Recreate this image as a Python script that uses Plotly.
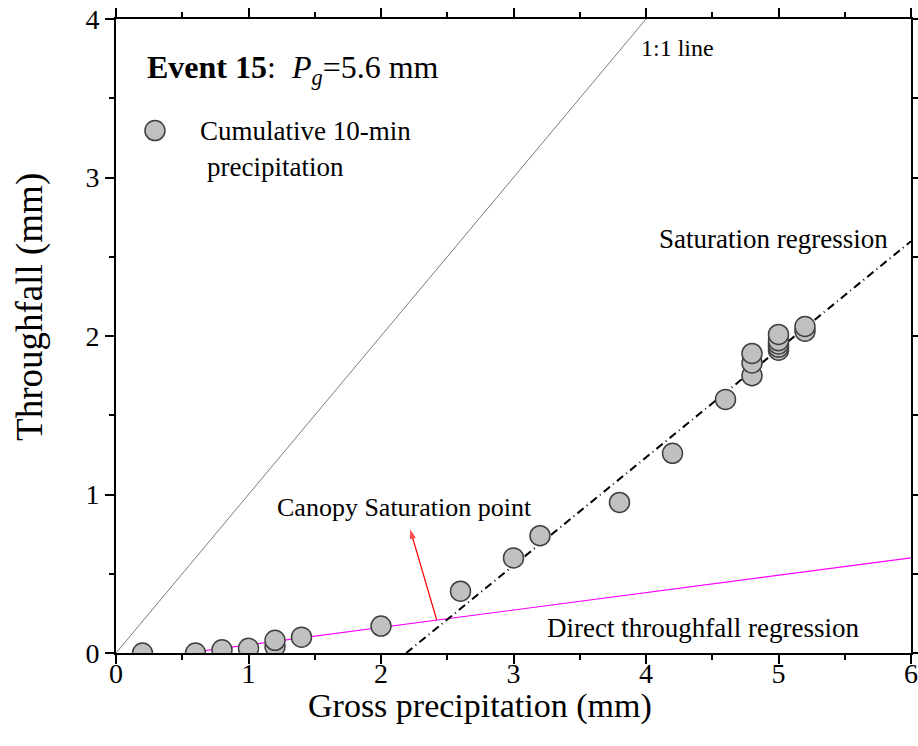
import plotly.graph_objects as go

# Data
gross_precip = [0.2, 0.6, 0.8, 1.0, 1.2, 1.2, 1.4, 2.0, 2.6, 3.0, 3.2, 3.8, 4.2, 4.6,
                4.8, 4.8, 4.8, 5.0, 5.0, 5.0, 5.0, 5.0, 5.2, 5.2]
throughfall = [0.0, 0.0, 0.02, 0.03, 0.04, 0.08, 0.10, 0.17, 0.39, 0.60, 0.74, 0.95, 1.26, 1.60,
               1.75, 1.83, 1.89, 1.91, 1.93, 1.95, 1.97, 2.01, 2.03, 2.06]

one_to_one_x = [0, 4]
one_to_one_y = [0, 4]

sat_slope, sat_intercept = 0.682, -1.494
sat_x = [2.19, 6.0]
sat_y = [sat_slope * v + sat_intercept for v in sat_x]

dir_slope, dir_intercept = 0.1097, -0.058
dir_x = [0.53, 6.0]
dir_y = [dir_slope * v + dir_intercept for v in dir_x]

arrow_x = [2.42, 2.22]
arrow_y = [0.21, 0.78]

xticks = [0, 1, 2, 3, 4, 5, 6]
yticks = [0, 1, 2, 3, 4]

FONT = "Liberation Serif, Times New Roman, serif"

fig = go.Figure()
fig.add_trace(go.Scatter(x=one_to_one_x, y=one_to_one_y, mode="lines",
                         line=dict(color="#7a7a7a", width=1), showlegend=False))
fig.add_trace(go.Scatter(x=dir_x, y=dir_y, mode="lines",
                         line=dict(color="#ff00ff", width=1.2), showlegend=False))
fig.add_trace(go.Scatter(x=sat_x, y=sat_y, mode="lines",
                         line=dict(color="black", width=2, dash="8px,4px,1px,4px"), showlegend=False))
fig.add_trace(go.Scatter(x=arrow_x, y=arrow_y, mode="lines+markers",
                         line=dict(color="red", width=1.2),
                         marker=dict(symbol="arrow", size=[0, 10], angleref="previous", color="red",
                                     line=dict(width=0)),
                         showlegend=False))
fig.add_trace(go.Scatter(x=gross_precip, y=throughfall, mode="markers",
                         marker=dict(size=20, color="#c0c0c0",
                                     line=dict(color="#404040", width=1.5)),
                         showlegend=False))

axis_common = dict(showline=True, linecolor="black", linewidth=2, mirror="ticks",
                   ticks="outside", ticklen=9, tickwidth=2, tickcolor="black",
                   showgrid=False, zeroline=False, automargin=False,
                   ticklabeloverflow="allow",
                   tickfont=dict(family=FONT, size=28, color="black"),
                   minor=dict(ticks="outside", ticklen=5, tickwidth=2, tickcolor="black", dtick=0.5))

fig.update_xaxes(range=[0, 6], tickvals=xticks, ticktext=[str(t) for t in xticks],
                 ticklabelstandoff=-15, **axis_common)
fig.update_yaxes(range=[0, 4], tickvals=yticks, ticktext=[str(t) for t in yticks],
                 **axis_common)

# Axis titles
fig.add_annotation(x=0.458, y=-0.083, xref="paper", yref="paper", xanchor="center", yanchor="middle",
                   text="Gross precipitation (mm)", showarrow=False,
                   font=dict(family=FONT, size=34, color="black"))
fig.add_annotation(x=-0.108, y=0.546, xref="paper", yref="paper", xanchor="center", yanchor="middle",
                   text="Throughfall (mm)", textangle=-90, showarrow=False,
                   font=dict(family=FONT, size=37, color="black"))

fig.add_annotation(x=2.18, y=0.915, xref="x", yref="y", text="Canopy Saturation point",
                   showarrow=False, font=dict(family=FONT, size=26, color="black"))
fig.add_annotation(x=5.84, y=2.61, xref="x", yref="y", text="Saturation regression",
                   showarrow=False, xanchor="right", font=dict(family=FONT, size=27, color="black"))
fig.add_annotation(x=5.62, y=0.158, xref="x", yref="y", text="Direct throughfall regression",
                   showarrow=False, xanchor="right", font=dict(family=FONT, size=27, color="black"))
fig.add_annotation(x=3.95, y=3.82, xref="x", yref="y", text="1:1 line",
                   showarrow=False, xanchor="left", font=dict(family=FONT, size=24, color="black"))

fig.add_annotation(x=0.0365, y=0.921, xref="paper", yref="paper", xanchor="left", yanchor="middle",
                   text="<b>Event 15</b>:  <i>P</i><sub><i>g</i></sub>=5.6 mm",
                   showarrow=False, font=dict(family=FONT, size=32, color="black"))

# Legend (drawn manually)
fig.add_shape(type="circle", xref="paper", yref="paper", xsizemode="pixel", ysizemode="pixel",
              xanchor=0.049, yanchor=0.824, x0=-10, x1=10, y0=-10, y1=10,
              fillcolor="#c0c0c0", line=dict(color="#404040", width=1.5))
fig.add_annotation(x=0.103, y=0.824, xref="paper", yref="paper", xanchor="left", yanchor="middle",
                   text="Cumulative 10-min", showarrow=False,
                   font=dict(family=FONT, size=27, color="black"))
fig.add_annotation(x=0.112, y=0.767, xref="paper", yref="paper", xanchor="left", yanchor="middle",
                   text="precipitation", showarrow=False,
                   font=dict(family=FONT, size=27, color="black"))

fig.update_layout(width=918, height=746, plot_bgcolor="white", paper_bgcolor="white",
                  margin=dict(l=116, r=7, t=19, b=93, autoexpand=False), showlegend=False)

fig.write_html("out.html", config={"displayModeBar": False},
               post_script="document.body.style.margin='0px';document.body.style.overflow='hidden';")
